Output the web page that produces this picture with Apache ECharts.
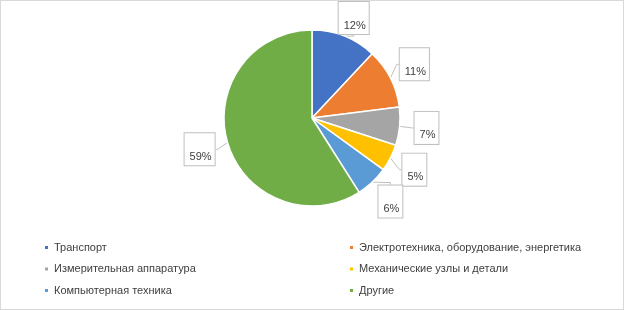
<!DOCTYPE html>
<html><head><meta charset="utf-8">
<script src="https://cdn.jsdelivr.net/npm/echarts@6/dist/echarts.min.js"></script>
<style>html,body{margin:0;padding:0;background:#fff}#c{width:622px;height:308px;border:1px solid #d9d9d9}</style>
</head><body><div id="c"></div>
<script>
const categories = ['Транспорт','Электротехника, оборудование, энергетика','Измерительная аппаратура','Механические узлы и детали','Компьютерная техника','Другие'];
const values = [12, 11, 7, 5, 6, 59];
const colors = ['#4472c4','#ed7d31','#a5a5a5','#ffc000','#5b9bd5','#70ad47'];
const chart = echarts.init(document.getElementById('c'));
const data = categories.map((n,i)=>({name:n,value:values[i],itemStyle:{color:colors[i]}}));
const font = '"Liberation Sans", Arial, sans-serif';
const CX = 311, CY = 117, R = 88, LABEL_R = 116;
const total = values.reduce((a,b)=>a+b,0);
const midAngles = [];
let acc = 0;
values.forEach(v=>{ midAngles.push((acc + v/2)/total*2*Math.PI); acc += v; });
const legendBase = {orient:'vertical', icon:'rect', itemWidth:5, itemHeight:5, itemGap:10.5, height:90,
  textStyle:{fontFamily:font,fontSize:11,color:'#404040'}, top:236};
chart.setOption({
  animation:false,
  legend:[
    Object.assign({left:37, data:[categories[0],categories[2],categories[4]]}, legendBase),
    Object.assign({left:342, data:[categories[1],categories[3],categories[5]]}, legendBase)
  ],
  series:[{
    type:'pie', center:[CX,CY], radius:R, startAngle:90, clockwise:true,
    itemStyle:{borderColor:'#fff',borderWidth:1.5},
    label:{show:true, position:'outside', formatter:'{d}%', fontFamily:font, fontSize:11, color:'#404040',
      borderColor:'#bfbfbf', borderWidth:1, padding:[18,3,3,5], backgroundColor:'#fff'},
    labelLine:{show:true, length:3, length2:2, lineStyle:{color:'#bfbfbf',width:1}},
    labelLayout: function(p){
      const a = midAngles[p.dataIndex];
      const w = p.labelRect.width, h = p.labelRect.height;
      const x = CX + LABEL_R*Math.sin(a), y = CY - LABEL_R*Math.cos(a);
      return {x: x - w/2, y: Math.max(1, y - h/2), align:'left', verticalAlign:'top'};
    },
    data:data
  }]
});
</script></body></html>
